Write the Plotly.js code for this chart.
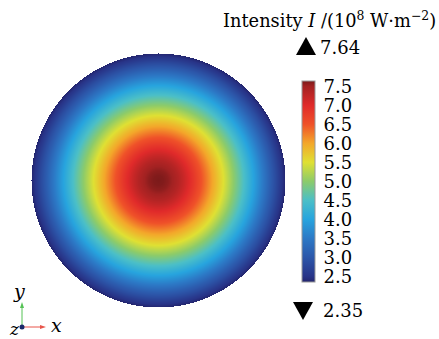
<!DOCTYPE html>
<html>
<head>
<meta charset="utf-8">
<script src="https://cdn.plot.ly/plotly-3.0.1.min.js"></script>
<style>html,body{margin:0;padding:0;background:#fff;}#chart{width:439px;height:339px;}</style>
</head>
<body>
<div id="chart"></div>
<script>
// Radial intensity profile (r as fraction of disk radius)
const profileR = [0.00,0.04,0.08,0.12,0.16,0.20,0.24,0.28,0.32,0.36,0.40,0.44,0.48,0.52,0.56,0.60,0.64,0.68,0.72,0.76,0.80,0.84,0.88,0.92,0.96,1.00];
const profileI = [7.64,7.62,7.57,7.48,7.36,7.20,7.02,6.82,6.60,6.38,6.15,5.92,5.68,5.45,5.20,4.95,4.70,4.45,4.18,3.92,3.65,3.38,3.10,2.85,2.58,2.35];
const minI = 2.35, maxI = 7.64;
const tickVals = [2.5,3.0,3.5,4.0,4.5,5.0,5.5,6.0,6.5,7.0,7.5];
const tickText = ["2.5","3.0","3.5","4.0","4.5","5.0","5.5","6.0","6.5","7.0","7.5"];
const scaleVals = [2.35,2.5,3.0,3.5,4.0,4.5,5.0,5.5,6.0,6.5,7.0,7.5,7.64];
const scaleColors = ["#23256e","#283488","#2c57aa","#2c79c6","#27a4de","#4bbfc7","#8ccb6a","#dfe033","#f3a72a","#ef5129","#e02a2a","#a32222","#7c1a1a"];

const colorscale = scaleVals.map((v,i)=>[(v-minI)/(maxI-minI), scaleColors[i]]);

// Build the grid table for the heatmap from the radial profile
const N = 255;
const xs = [], ys = [];
for (let i=0;i<N;i++){ const t = -1 + 2*i/(N-1); xs.push(t); ys.push(t); }
function profileAt(r){
  for (let k=0;k<profileR.length-1;k++){
    if (r<=profileR[k+1]){
      const f=(r-profileR[k])/(profileR[k+1]-profileR[k]);
      return profileI[k]+f*(profileI[k+1]-profileI[k]);
    }
  }
  return profileI[profileI.length-1];
}
const z = ys.map(y=>xs.map(x=>{const r=Math.hypot(x,y); return r<=1.0 ? profileAt(r) : null;}));

const W=439,H=339;
const px = x=>x/W, py = y=>1-y/H;
const P = (x,y)=>px(x)+','+py(y);

const trace = {
  type:'heatmap', x:xs, y:ys, z:z, zmin:minI, zmax:maxI,
  colorscale:colorscale, hoverinfo:'skip', zsmooth:false,
  colorbar:{
    x:px(302), xanchor:'left', xpad:0,
    y:py(181.5), yanchor:'middle', ypad:0,
    len:201/H, lenmode:'fraction',
    thickness:13, thicknessmode:'pixels',
    tickvals:tickVals, ticktext:tickText,
    ticks:'outside', ticklen:5, tickcolor:'rgba(0,0,0,0)', tickwidth:1,
    tickfont:{family:'DejaVu Serif', size:18, color:'#000'},
    outlinewidth:1, outlinecolor:'#999', borderwidth:0
  }
};

const serif = 'DejaVu Serif';
const layout = {
  width:W, height:H, margin:{l:0,r:0,t:0,b:0},
  paper_bgcolor:'#fff', plot_bgcolor:'rgba(0,0,0,0)',
  xaxis:{domain:[px(31),px(285)], range:[-1,1], visible:false, fixedrange:true},
  yaxis:{domain:[py(307),py(53)], range:[-1,1], visible:false, fixedrange:true},
  showlegend:false,
  annotations:[
    {xref:'paper',yref:'paper',x:px(438),y:py(20),xanchor:'right',yanchor:'middle',showarrow:false,
     text:'Intensity <i>I</i> /(10<sup>8</sup> W·m<sup>−2</sup>)',font:{family:serif,size:17.8,color:'#000'}},
    {xref:'paper',yref:'paper',x:px(318),y:py(47),xanchor:'left',yanchor:'middle',showarrow:false,
     text:'7.64',font:{family:serif,size:18,color:'#000'}},
    {xref:'paper',yref:'paper',x:px(321),y:py(310),xanchor:'left',yanchor:'middle',showarrow:false,
     text:'2.35',font:{family:serif,size:18,color:'#000'}},
    {xref:'paper',yref:'paper',x:px(19),y:py(291),xanchor:'center',yanchor:'middle',showarrow:false,
     text:'<i>y</i>',font:{family:serif,size:19,color:'#000'}},
    {xref:'paper',yref:'paper',x:px(56),y:py(325),xanchor:'center',yanchor:'middle',showarrow:false,
     text:'<i>x</i>',font:{family:serif,size:19,color:'#000'}},
    {xref:'paper',yref:'paper',x:px(14),y:py(329),xanchor:'center',yanchor:'middle',showarrow:false,
     text:'<i>z</i>',font:{family:serif,size:17,color:'#000'}}
  ],
  shapes:[
    // max / min markers
    {type:'path',xref:'paper',yref:'paper',path:'M'+P(296,55)+' L'+P(316,55)+' L'+P(306,37)+' Z',fillcolor:'#000',line:{width:0}},
    {type:'path',xref:'paper',yref:'paper',path:'M'+P(293,302)+' L'+P(313,302)+' L'+P(303,320)+' Z',fillcolor:'#000',line:{width:0}},
    // axis triad
    {type:'line',xref:'paper',yref:'paper',x0:px(22),y0:py(327),x1:px(22),y1:py(307),line:{color:'#55c255',width:1}},
    {type:'path',xref:'paper',yref:'paper',path:'M'+P(20,308)+' L'+P(24,308)+' L'+P(22,302)+' Z',fillcolor:'#55c255',line:{width:0}},
    {type:'line',xref:'paper',yref:'paper',x0:px(22),y0:py(327),x1:px(41),y1:py(327),line:{color:'#e8554a',width:1}},
    {type:'path',xref:'paper',yref:'paper',path:'M'+P(40,325)+' L'+P(40,329)+' L'+P(46,327)+' Z',fillcolor:'#e8554a',line:{width:0}},
    {type:'circle',xref:'paper',yref:'paper',x0:px(19.5),x1:px(24.5),y0:py(329.5),y1:py(324.5),
     fillcolor:'#1a2a6a',line:{width:0}}
  ]
};

Plotly.newPlot('chart',[trace],layout,{staticPlot:true,displayModeBar:false});
</script>
</body>
</html>
